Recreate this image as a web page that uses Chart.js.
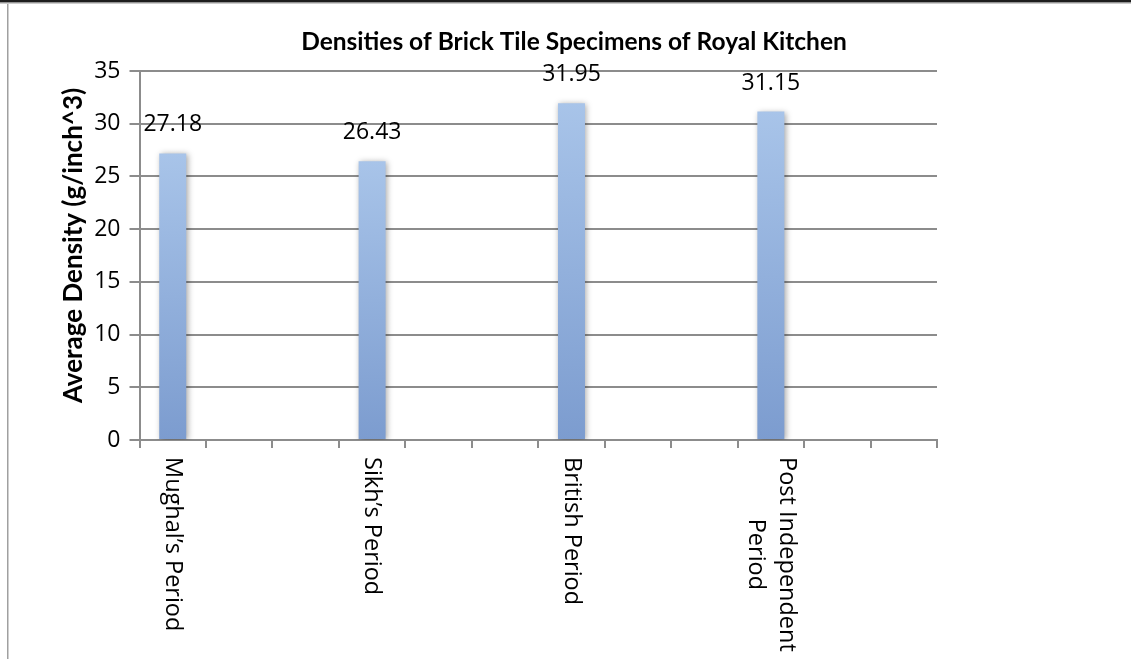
<!DOCTYPE html>
<html>
<head>
<meta charset="utf-8">
<title>Densities of Brick Tile Specimens of Royal Kitchen</title>
<script src="https://cdn.jsdelivr.net/npm/chart.js@4.4.1/dist/chart.umd.min.js"></script>
<style>
  html, body { margin: 0; padding: 0; background: #fff; }
  #wrap { width: 1131px; height: 659px; }
</style>
</head>
<body>
<div id="wrap"><canvas id="chart" width="1131" height="659"></canvas></div>
<script>
// Periods (multi-line labels as arrays) and their average densities
const periods = ['Mughal’s Period', 'Sikh’s Period', 'British Period', ['Post Independent', 'Period']];
const densities = [27.18, 26.43, 31.95, 31.15];
const yTicks = [0, 5, 10, 15, 20, 25, 30, 35];
const slotsPerPeriod = 3;   // each period owns three category slots on the axis

const slotLabels = periods.flatMap(p => Array.from({ length: slotsPerPeriod }, (_, k) => k === 0 ? p : ''));
const slotValues = densities.flatMap(v => Array.from({ length: slotsPerPeriod }, (_, k) => k === 0 ? v : null));

const TEXT_FONT = '"Open Sans"';
const TITLE_FONT = 'Lato';
const GRID = '#8c8c8c';
const CHART_TITLE = 'Densities of Brick Tile Specimens of Royal Kitchen';
const Y_TITLE = 'Average Density (g/inch^3)';

// White page with the thin frame around the chart
const framePlugin = {
  id: 'frame',
  beforeDraw(chart) {
    const { ctx, width, height } = chart;
    ctx.save();
    ctx.fillStyle = '#fff';
    ctx.fillRect(0, 0, width, height);
    ctx.fillStyle = '#1e1e1e';
    ctx.fillRect(0, 0, width, 2.5);
    ctx.fillStyle = '#9a9a9a';
    ctx.fillRect(0, 2.5, width, 1);
    ctx.fillStyle = '#a0a0a0';
    ctx.fillRect(7, 4, 1.5, height - 4);
    ctx.restore();
  }
};

// Soft drop shadow behind the bars
const barShadow = {
  id: 'barShadow',
  beforeDatasetsDraw(chart) {
    const { ctx } = chart;
    ctx.save();
    ctx.shadowColor = 'rgba(0,0,0,0.35)';
    ctx.shadowBlur = 6;
    ctx.shadowOffsetX = 1.5;
    ctx.shadowOffsetY = 1;
  },
  afterDatasetsDraw(chart) {
    chart.ctx.restore();
  }
};

// Value above each bar
const valueLabels = {
  id: 'valueLabels',
  afterDraw(chart) {
    const { ctx } = chart;
    const meta = chart.getDatasetMeta(0);
    ctx.save();
    ctx.font = `23px ${TEXT_FONT}`;
    ctx.fillStyle = '#000';
    ctx.textAlign = 'center';
    ctx.textBaseline = 'alphabetic';
    meta.data.forEach((bar, i) => {
      const v = slotValues[i];
      if (v == null) return;
      ctx.fillText(v.toFixed(2), bar.x, bar.y - 22);
    });
    ctx.restore();
  }
};

// Chart title across the top of the page, and the vertical axis title
const titles = {
  id: 'titles',
  afterDraw(chart) {
    const { ctx, chartArea, width } = chart;
    ctx.save();
    ctx.fillStyle = '#000';
    ctx.textAlign = 'center';
    ctx.textBaseline = 'middle';
    ctx.font = `bold 24.5px ${TITLE_FONT}`;
    ctx.fillText(CHART_TITLE, width / 2 + 8.5, 42);
    ctx.font = `bold 26px ${TITLE_FONT}`;
    ctx.translate(74, (chartArea.top + chartArea.bottom) / 2 - 10);
    ctx.rotate(-Math.PI / 2);
    ctx.fillText(Y_TITLE, 0, 0);
    ctx.restore();
  }
};

// Period names under the axis, turned a quarter clockwise
const periodLabels = {
  id: 'periodLabels',
  afterDraw(chart) {
    const { ctx } = chart;
    const xs = chart.scales.x;
    const lineH = 31;
    ctx.save();
    ctx.font = `23.5px ${TEXT_FONT}`;
    ctx.fillStyle = '#000';
    ctx.textAlign = 'left';
    ctx.textBaseline = 'middle';
    periods.forEach((p, i) => {
      const lines = [].concat(p);
      const x = xs.getPixelForValue(i * slotsPerPeriod);
      const y = xs.top + 17;
      const maxW = Math.max(...lines.map(l => ctx.measureText(l).width));
      ctx.save();
      ctx.translate(x, y);
      ctx.rotate(Math.PI / 2);
      lines.forEach((line, k) => {
        const w = ctx.measureText(line).width;
        ctx.fillText(line, (maxW - w) / 2, (k - (lines.length - 1) / 2) * lineH);
      });
      ctx.restore();
    });
    ctx.restore();
  }
};

new Chart(document.getElementById('chart'), {
  type: 'bar',
  data: {
    labels: slotLabels,
    datasets: [{
      data: slotValues,
      barPercentage: 0.406,
      categoryPercentage: 1,
      borderWidth: 0,
      backgroundColor(ctx) {
        const chart = ctx.chart;
        if (!chart.chartArea || ctx.raw == null) return '#95b2de';
        const ys = chart.scales.y;
        const top = ys.getPixelForValue(ctx.raw);
        const base = ys.getPixelForValue(0);
        const g = chart.ctx.createLinearGradient(0, top, 0, base);
        g.addColorStop(0, '#a8c4e9');
        g.addColorStop(1, '#7c9ccf');
        return g;
      }
    }]
  },
  options: {
    responsive: false,
    animation: false,
    devicePixelRatio: 1,
    layout: { padding: { left: 10, right: 194, top: 71, bottom: 0 } },
    plugins: {
      legend: { display: false },
      tooltip: { enabled: false },
      title: { display: false }
    },
    scales: {
      x: {
        type: 'category',
        offset: true,
        grid: {
          offset: true,
          drawOnChartArea: false,
          drawTicks: true,
          tickLength: 8,
          color: GRID,
          lineWidth: 2
        },
        border: { display: true, color: GRID, width: 2 },
        ticks: { display: false, autoSkip: false },
        afterFit(scale) { scale.height = 219; }
      },
      y: {
        min: 0,
        max: 35,
        afterBuildTicks(scale) { scale.ticks = yTicks.map(v => ({ value: v })); },
        grid: { color: GRID, lineWidth: 2, drawTicks: true, tickLength: 10 },
        border: { display: true, color: GRID, width: 2 },
        ticks: { color: '#000', padding: 9, font: { family: 'Open Sans', size: 23 } },
        afterFit(scale) { scale.width = 129.5; }
      }
    }
  },
  plugins: [framePlugin, barShadow, valueLabels, titles, periodLabels]
});
</script>
</body>
</html>
